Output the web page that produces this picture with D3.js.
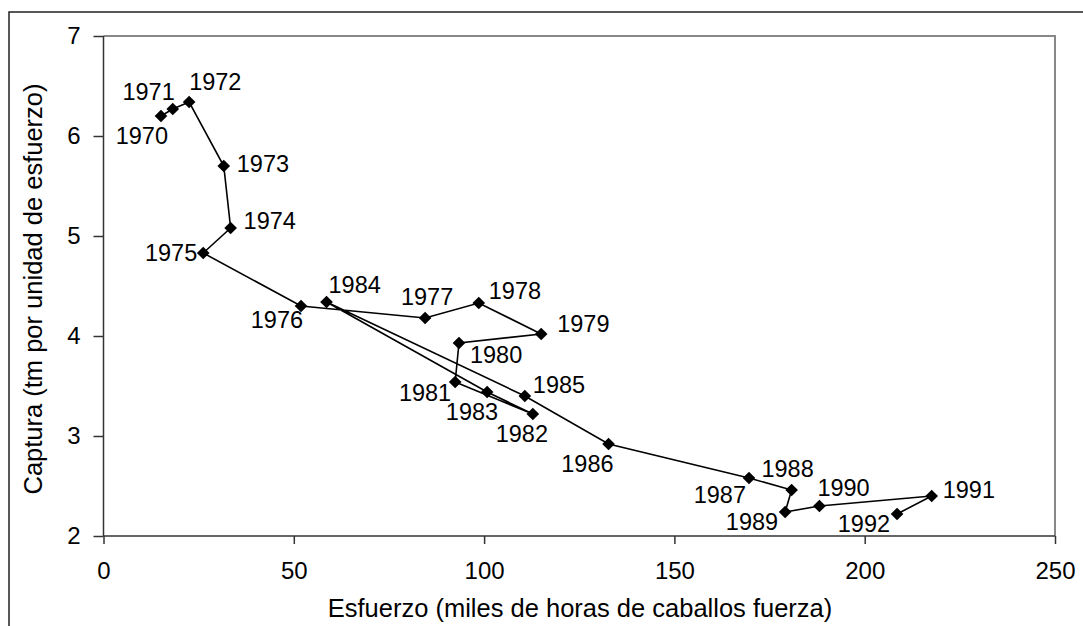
<!DOCTYPE html>
<html lang="en">

<head>
	<meta charset="UTF-8">
	<title>Captura vs Esfuerzo</title>

	<style>
		body { margin: 0; background: #fff; }
		text { font-family: "Liberation Sans", Arial, sans-serif; fill: #000; }
	</style>

	<script src="https://d3js.org/d3.v7.min.js"></script>
</head>

<body>
	<script type="text/javascript">
		const width = 1083;
		const height = 626;

		// data
		const years = [1970, 1971, 1972, 1973, 1974, 1975, 1976, 1977, 1978, 1979, 1980, 1981,
			1982, 1983, 1984, 1985, 1986, 1987, 1988, 1989, 1990, 1991, 1992];
		const esfuerzo = [15.1, 18.2, 22.5, 31.6, 33.4, 26.2, 51.9, 84.5, 98.6, 115.0, 93.4, 92.4,
			112.8, 100.8, 58.6, 110.7, 132.7, 169.6, 180.8, 179.1, 188.1, 217.6, 208.5];
		const captura = [6.20, 6.27, 6.34, 5.70, 5.08, 4.83, 4.30, 4.18, 4.33, 4.02, 3.93, 3.54,
			3.22, 3.44, 4.34, 3.40, 2.92, 2.58, 2.46, 2.24, 2.30, 2.40, 2.22];
		const xTicks = [0, 50, 100, 150, 200, 250];
		const yTicks = [2, 3, 4, 5, 6, 7];

		// where each year label sits relative to its marker: [anchor, dx, dy]
		const labelOffsets = [
			["end", 7, 28], ["end", 2, -9], ["start", 0, -12], ["start", 13, 6], ["start", 13, 1],
			["end", -6, 8], ["end", 2, 22], ["middle", 2, -13], ["start", 10, -4], ["start", 16, -2],
			["start", 11, 20], ["end", -4, 19], ["middle", -11, 28], ["end", 11, 28], ["start", 2, -9],
			["start", 8, -3], ["end", 5, 28], ["end", -3, 25], ["middle", -4, -13], ["end", -7, 18],
			["start", -2, -10], ["start", 11, 2], ["end", -7, 18]
		];

		const points = years.map((y, i) => ({ year: y, x: esfuerzo[i], y: captura[i], lab: labelOffsets[i] }));

		const svg = d3.select("body").append("svg")
			.attr("width", width)
			.attr("height", height);

		// outer chart frame (runs off the right and bottom edges)
		svg.append("rect")
			.attr("x", 9).attr("y", 12)
			.attr("width", width + 20).attr("height", height + 20)
			.attr("fill", "none").attr("stroke", "#222").attr("stroke-width", 1.5);

		const plotL = 103.5, plotR = 1055, plotT = 36, plotB = 536;

		const x = d3.scaleLinear().domain([0, 250]).range([plotL, plotR]);
		const y = d3.scaleLinear().domain([2, 7]).range([plotB, plotT]);

		// plot area border (gray top / right)
		svg.append("path")
			.attr("d", `M${plotL},${plotT}H${plotR}V${plotB}`)
			.attr("fill", "none").attr("stroke", "#888").attr("stroke-width", 2);

		const xAxis = svg.append("g")
			.attr("transform", `translate(0,${plotB})`)
			.call(d3.axisBottom(x).tickValues(xTicks).tickSize(8).tickPadding(18).tickFormat(d3.format("d")));
		const yAxis = svg.append("g")
			.attr("transform", `translate(${plotL},0)`)
			.call(d3.axisLeft(y).tickValues(yTicks).tickSize(10).tickPadding(13).tickFormat(d3.format("d")));

		[xAxis, yAxis].forEach(g => {
			g.selectAll("path, line").attr("stroke", "#333").attr("stroke-width", 1.5);
			g.selectAll("text").style("font-size", "24px").attr("font-family", null);
		});
		xAxis.select(".domain").attr("d", `M${plotL},0H${plotR}`);
		yAxis.select(".domain").attr("d", `M0,${plotB}V${plotT}`);

		// connecting line in year order
		svg.append("path")
			.datum(points)
			.attr("fill", "none")
			.attr("stroke", "#000")
			.attr("stroke-width", 1.6)
			.attr("d", d3.line().x(d => x(d.x)).y(d => y(d.y)));

		// diamond markers
		svg.selectAll(".marker")
			.data(points)
			.join("path")
			.classed("marker", true)
			.attr("d", d3.symbol(d3.symbolSquare, 80))
			.attr("transform", d => `translate(${x(d.x)},${y(d.y)}) rotate(45)`)
			.attr("fill", "#000");

		// year labels
		svg.selectAll(".yearlab")
			.data(points)
			.join("text")
			.classed("yearlab", true)
			.attr("x", d => x(d.x) + d.lab[1])
			.attr("y", d => y(d.y) + d.lab[2])
			.attr("text-anchor", d => d.lab[0])
			.style("font-size", "23.5px")
			.text(d => d.year);

		// axis titles
		svg.append("text")
			.attr("x", 580)
			.attr("y", 616.5)
			.attr("text-anchor", "middle")
			.style("font-size", "25.5px")
			.text("Esfuerzo (miles de horas de caballos fuerza)");

		svg.append("text")
			.attr("transform", "translate(42,289) rotate(-90)")
			.attr("text-anchor", "middle")
			.style("font-size", "25.5px")
			.text("Captura (tm por unidad de esfuerzo)");
	</script>
</body>

</html>
